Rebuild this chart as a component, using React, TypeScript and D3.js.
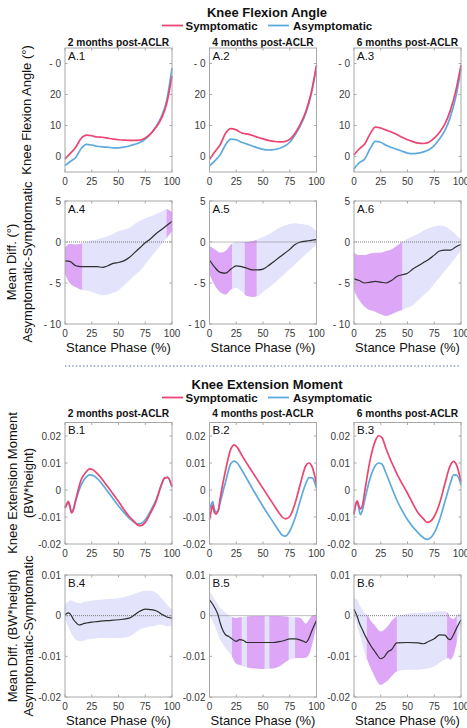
import React from "react";
import * as d3 from "d3";

// ---------- DATA ----------
const subtitles = ["2 months post-ACLR", "4 months post-ACLR", "6 months post-ACLR"];
const xTicks = [0, 25, 50, 75, 100];

// Knee flexion angle (deg) stance grid
const gridA = [0, 5, 10, 15, 20, 25, 30, 35, 40, 45, 50, 55, 60, 65, 70, 75, 80, 85, 90, 95, 100];
const a1Sym = [-0.8, 1.0, 3.0, 5.8, 6.9, 6.7, 6.3, 6.2, 5.9, 5.6, 5.4, 5.3, 5.2, 5.2, 5.3, 6.0, 7.3, 9.4, 12.2, 17.0, 26.0];
const a1Asym = [-2.9, -1.6, -0.3, 2.5, 3.9, 3.7, 3.3, 3.1, 3.0, 2.8, 2.8, 3.0, 3.4, 3.9, 4.5, 5.6, 7.3, 9.6, 12.8, 18.0, 28.5];
const a2Sym = [-1.0, 1.5, 3.8, 7.5, 9.0, 8.6, 7.6, 7.3, 6.8, 6.2, 5.7, 5.2, 4.9, 4.7, 4.8, 5.5, 7.5, 10.5, 14.5, 20.5, 29.5];
const a2Asym = [-3.0, -1.4, 0.6, 3.8, 5.6, 5.4, 4.6, 4.0, 3.4, 2.8, 2.3, 2.1, 2.2, 2.6, 3.3, 4.6, 7.0, 10.0, 14.0, 20.0, 29.0];
const a3Sym = [0.5, 2.5, 4.0, 7.3, 9.5, 9.2, 8.5, 7.9, 7.1, 6.2, 5.4, 4.8, 4.3, 4.2, 4.6, 5.9, 7.8, 10.5, 14.8, 21.0, 29.5];
const a3Asym = [-4.0, -2.0, -0.8, 2.5, 4.9, 4.6, 3.6, 2.9, 2.3, 1.7, 1.1, 0.9, 1.1, 1.5, 2.2, 3.5, 5.7, 8.4, 12.7, 19.0, 28.3];

// Mean differences (asym - sym) with bounds
const a4Mean = [-2.3, -2.4, -2.9, -3.0, -3.0, -3.0, -3.0, -3.1, -2.9, -2.6, -2.5, -2.3, -1.9, -1.3, -0.7, -0.1, 0.4, 1.0, 1.5, 2.0, 2.5];
const a4Up = [-0.7, -0.2, -0.3, -0.2, 0.0, 0.2, 0.3, 0.5, 0.7, 1.0, 1.3, 1.5, 1.7, 2.2, 2.6, 2.9, 3.1, 3.4, 3.7, 4.0, 3.6];
const a4Lo = [-3.9, -5.1, -5.5, -5.8, -5.9, -6.1, -6.3, -6.5, -6.4, -6.2, -5.9, -5.3, -4.7, -4.1, -3.5, -2.7, -1.9, -1.1, -0.3, 0.5, 1.3];
const a4Sig = [[0, 16], [95, 100]];
const a5Mean = [-2.2, -3.1, -3.7, -3.8, -3.3, -2.9, -3.0, -3.2, -3.4, -3.4, -3.3, -2.9, -2.4, -1.9, -1.4, -0.9, -0.3, 0.0, 0.1, 0.2, 0.3];
const a5Up = [-0.5, -0.9, -1.3, -1.1, -0.3, 0.0, 0.0, 0.0, 0.1, 0.3, 0.6, 0.9, 1.3, 1.7, 2.0, 2.2, 2.3, 2.2, 2.1, 1.9, 1.3];
const a5Lo = [-3.9, -5.3, -6.1, -6.4, -5.8, -5.6, -6.0, -6.6, -6.7, -6.6, -6.1, -5.6, -5.1, -4.5, -3.9, -3.3, -2.7, -2.1, -1.5, -0.9, -0.3];
const a5Sig = [[0, 21], [33, 44]];
const a6Mean = [-4.5, -4.7, -5.0, -4.9, -4.8, -4.9, -5.0, -4.7, -4.2, -4.0, -3.8, -3.3, -2.9, -2.5, -2.1, -1.6, -1.1, -1.0, -1.0, -0.6, -0.3];
const a6Up = [-1.3, -1.6, -1.6, -1.4, -1.3, -1.3, -1.1, -0.9, -0.5, 0.0, 0.4, 0.7, 1.0, 1.4, 1.7, 1.9, 2.0, 1.9, 1.5, 0.9, 0.3];
const a6Lo = [-5.9, -7.1, -7.9, -8.3, -8.5, -8.8, -9.0, -8.8, -8.5, -8.3, -8.0, -7.7, -7.1, -6.5, -5.9, -5.1, -4.3, -3.5, -2.7, -1.9, -0.9];
const a6Sig = [[0, 45]];

// Knee extension moment (BW*height)
const gridB = [0, 1.5, 3, 4.5, 6, 8, 10, 15, 20, 23, 26, 30, 40, 50, 60, 65, 68, 71, 75, 80, 85, 90, 93, 96, 100];
const b1Sym = [-0.0067, -0.0055, -0.0042, -0.0058, -0.0085, -0.0072, -0.0037, 0.0037, 0.0068, 0.0078, 0.0075, 0.0062, 0.0012, -0.0043, -0.0098, -0.0118, -0.013, -0.0132, -0.012, -0.0085, -0.0043, 0.0018, 0.0045, 0.0046, 0.0012];
const b1Asym = [-0.0063, -0.0052, -0.0046, -0.0062, -0.008, -0.0068, -0.004, 0.0018, 0.0049, 0.0056, 0.0054, 0.0043, -0.0006, -0.0059, -0.0104, -0.012, -0.0125, -0.0124, -0.011, -0.0077, -0.0037, 0.0018, 0.0043, 0.0048, 0.0012];
const b2Sym = [-0.011, -0.008, -0.0056, -0.0082, -0.0089, -0.0078, -0.003, 0.0073, 0.0152, 0.0167, 0.0158, 0.013, 0.0067, 0.0006, -0.0055, -0.0085, -0.01, -0.0107, -0.0098, -0.0049, 0.0024, 0.009, 0.01, 0.0085, 0.0024];
const b2Asym = [-0.0073, -0.0055, -0.0043, -0.007, -0.0082, -0.0078, -0.0046, 0.003, 0.0098, 0.0107, 0.01, 0.0075, 0.0006, -0.0061, -0.0122, -0.0152, -0.0168, -0.0171, -0.0152, -0.0104, -0.0037, 0.0024, 0.0046, 0.0045, 0.0006];
const b3Sym = [-0.0091, -0.0055, -0.004, -0.0058, -0.007, -0.0055, -0.0006, 0.011, 0.0183, 0.0201, 0.0195, 0.0152, 0.0061, -0.0012, -0.0085, -0.0107, -0.012, -0.0117, -0.0098, -0.0049, 0.0024, 0.0091, 0.0106, 0.0091, 0.003];
const b3Asym = [-0.0085, -0.0055, -0.0043, -0.0068, -0.0091, -0.0073, -0.0037, 0.0043, 0.0091, 0.01, 0.0096, 0.0061, -0.0037, -0.011, -0.0159, -0.0177, -0.0183, -0.0179, -0.0159, -0.011, -0.0043, 0.0024, 0.0055, 0.0055, 0.0018];

const gridBD = [0, 3, 5, 8, 10, 13, 15, 18, 20, 25, 28, 32, 35, 40, 50, 60, 65, 70, 75, 80, 85, 88, 90, 93, 96, 100];
const b4Mean = [0.0002, 0.0007, 0.0004, -0.001, -0.0016, -0.0023, -0.0022, -0.0019, -0.0018, -0.0016, -0.0015, -0.0014, -0.0013, -0.0012, -0.001, -0.0006, 0.0002, 0.0011, 0.0016, 0.0015, 0.0012, 0.0008, 0.0004, 0.0, -0.0004, -0.0006];
const b4Up = [0.0027, 0.0035, 0.0038, 0.0035, 0.0033, 0.0031, 0.0031, 0.0034, 0.0035, 0.0037, 0.0038, 0.0039, 0.004, 0.0041, 0.0043, 0.0049, 0.0054, 0.0058, 0.0061, 0.0061, 0.0056, 0.005, 0.0043, 0.0035, 0.0025, 0.0015];
const b4Lo = [-0.001, -0.0026, -0.0039, -0.0052, -0.0059, -0.0062, -0.0063, -0.0061, -0.0059, -0.0057, -0.0056, -0.0055, -0.0055, -0.0055, -0.0055, -0.0051, -0.0043, -0.0034, -0.003, -0.0026, -0.0024, -0.0022, -0.0022, -0.0024, -0.0026, -0.0025];
const b4Sig: number[][] = [];
const b5Mean = [0.0039, 0.0028, 0.0019, 0.0002, -0.0018, -0.0039, -0.0047, -0.0051, -0.0055, -0.0063, -0.0059, -0.0061, -0.0066, -0.0066, -0.0066, -0.0066, -0.0064, -0.0061, -0.0057, -0.0057, -0.006, -0.0063, -0.0066, -0.0055, -0.0035, -0.0012];
const b5Up = [0.006, 0.0048, 0.0039, 0.0027, 0.0019, 0.0012, 0.0007, 0.0001, -0.0002, -0.0006, -0.0004, -0.0003, -0.0002, -0.0001, -0.0001, -0.0001, -0.0001, -0.0002, -0.0003, -0.0004, -0.0006, -0.0015, -0.002, -0.001, 0.0, 0.0002];
const b5Lo = [0.0002, -0.0014, -0.0026, -0.0046, -0.0059, -0.0072, -0.008, -0.009, -0.0096, -0.0118, -0.0121, -0.0125, -0.0127, -0.0129, -0.0131, -0.0129, -0.0125, -0.0116, -0.0108, -0.0105, -0.0104, -0.0104, -0.0103, -0.0095, -0.007, -0.002];
const b5Sig = [[21, 30], [35, 51.5], [56, 74], [80, 100]];
const b6Mean = [0.0016, -0.0002, -0.0018, -0.0035, -0.0047, -0.0062, -0.0071, -0.0083, -0.009, -0.0106, -0.0102, -0.0088, -0.0084, -0.0067, -0.0066, -0.0067, -0.0069, -0.0063, -0.0057, -0.0047, -0.0048, -0.0057, -0.0059, -0.0047, -0.003, -0.001];
const b6Up = [0.0043, 0.0039, 0.0027, 0.0015, 0.0007, 0.0, -0.001, -0.002, -0.0026, -0.0039, -0.0035, -0.0025, -0.0014, -0.0002, 0.0005, 0.0007, 0.0008, 0.0008, 0.001, 0.0011, 0.0011, 0.0006, -0.0006, -0.0008, 0.0, 0.0007];
const b6Lo = [0.0002, -0.0026, -0.0043, -0.0072, -0.0092, -0.0112, -0.0125, -0.0142, -0.0153, -0.017, -0.0166, -0.0158, -0.0149, -0.0137, -0.0133, -0.0133, -0.0131, -0.0129, -0.0125, -0.0116, -0.0108, -0.0104, -0.0108, -0.0096, -0.0067, -0.0026];
const b6Sig = [[12, 40], [87, 96]];

const aTopTicks = [0, 10, 20, 30];
const aTopLabels = ["0", "10", "20", "- 0"];
const aDiffTicks = [-10, -5, 0, 5];
const aDiffLabels = ["- 10", "- 5", "0", "5"];
const bTopTicks = [-0.02, -0.01, 0, 0.01, 0.02];
const bTopLabels = ["-0.02", "-0.01", "0", "0.01", "0.02"];
const bDiffTicks = [-0.02, -0.01, 0, 0.01];
const bDiffLabels = ["-0.02", "-0.01", "0", "0.01"];

// ---------- STYLE ----------
const FONT = "'Liberation Sans', Arial, Helvetica, sans-serif";
const RED = "#ea4573";
const BLUE = "#5ea9dd";
const BAND = "#e3e3fb";
const SIG = "#dda6f6";
const AXIS = "#a8a8a8";
const TXT = "#3a3a3a";

const PX = [65, 209.5, 354];
const PW = 107;

type Row = { top: number; bottom: number; domain: [number, number]; ticks: number[]; labels: string[] };

const rowATop: Row = { top: 48, bottom: 172, domain: [-5, 35], ticks: aTopTicks, labels: aTopLabels };
const rowADiff: Row = { top: 201, bottom: 324, domain: [-10, 5], ticks: aDiffTicks, labels: aDiffLabels };
const rowBTop: Row = { top: 422.5, bottom: 544, domain: [-0.02, 0.025], ticks: bTopTicks, labels: bTopLabels };
const rowBDiff: Row = { top: 575, bottom: 697, domain: [-0.02, 0.01], ticks: bDiffTicks, labels: bDiffLabels };

function Frame({ x0, row, label, xLabel, children }: any) {
  const x = d3.scaleLinear().domain([0, 100]).range([x0, x0 + PW]);
  const y = d3.scaleLinear().domain(row.domain).range([row.bottom, row.top]);
  const tl = 2.5;
  return (
    <g>
      {children(x, y)}
      <rect x={x0} y={row.top} width={PW} height={row.bottom - row.top} fill="none" stroke={AXIS} strokeWidth={1} />
      {xTicks.map((t) => (
        <g key={"xt" + t}>
          <line x1={x(t)} x2={x(t)} y1={row.bottom} y2={row.bottom - tl} stroke={AXIS} />
          <line x1={x(t)} x2={x(t)} y1={row.top} y2={row.top + tl} stroke={AXIS} />
          <text x={x(t)} y={row.bottom + 12.5} textAnchor="middle" fontSize={10} fill={TXT} fontFamily={FONT}>
            {t}
          </text>
        </g>
      ))}
      {row.ticks.map((t: number, i: number) => (
        <g key={"yt" + i}>
          <line x1={x0} x2={x0 + tl} y1={y(t)} y2={y(t)} stroke={AXIS} />
          <line x1={x0 + PW} x2={x0 + PW - tl} y1={y(t)} y2={y(t)} stroke={AXIS} />
          <text x={x0 - 4} y={y(t) + 3.5} textAnchor="end" fontSize={10} fill={TXT} fontFamily={FONT}>
            {row.labels[i]}
          </text>
        </g>
      ))}
      <text x={x0 + 3} y={row.top + 11.5} fontSize={11.5} fill="#111" fontFamily={FONT}>
        {label}
      </text>
      {xLabel && (
        <text x={x0 + PW / 2} y={row.bottom + 28} textAnchor="middle" fontSize={13} fill="#111" fontFamily={FONT}>
          Stance Phase (%)
        </text>
      )}
    </g>
  );
}

function CurvePanel({ x0, row, label, grid, sym, asym }: any) {
  return (
    <Frame x0={x0} row={row} label={label}>
      {(x: any, y: any) => {
        const line = d3
          .line<number>()
          .x((_, i) => x(grid[i]))
          .y((v) => y(v))
          .curve(d3.curveMonotoneX);
        return (
          <g>
            <path d={line(asym) || ""} fill="none" stroke={BLUE} strokeWidth={1.7} />
            <path d={line(sym) || ""} fill="none" stroke={RED} strokeWidth={1.7} />
          </g>
        );
      }}
    </Frame>
  );
}

function DiffPanel({ id, x0, row, label, grid, mean, up, lo, sig }: any) {
  return (
    <Frame x0={x0} row={row} label={label} xLabel>
      {(x: any, y: any) => {
        const idx = grid.map((_: number, i: number) => i);
        const area = d3
          .area<number>()
          .x((i) => x(grid[i]))
          .y0((i) => y(lo[i]))
          .y1((i) => y(up[i]))
          .curve(d3.curveMonotoneX);
        const line = d3
          .line<number>()
          .x((_, i) => x(grid[i]))
          .y((v) => y(v))
          .curve(d3.curveMonotoneX);
        const d = area(idx) || "";
        return (
          <g>
            <defs>
              <clipPath id={id}>
                {sig.map((s: number[], k: number) => (
                  <rect key={k} x={x(s[0])} width={x(s[1]) - x(s[0])} y={row.top} height={row.bottom - row.top} />
                ))}
              </clipPath>
            </defs>
            <path d={d} fill={BAND} />
            {sig.length > 0 && <path d={d} fill={SIG} clipPath={`url(#${id})`} />}
            <line x1={x(0)} x2={x(100)} y1={y(0)} y2={y(0)} stroke="#7a7a7a" strokeWidth={1} strokeDasharray="1 1" />
            <path d={line(mean) || ""} fill="none" stroke="#2e2e2e" strokeWidth={1.2} />
          </g>
        );
      }}
    </Frame>
  );
}

function Header({ title, yTitle, ySub, yLeg }: any) {
  return (
    <g fontFamily={FONT}>
      <text x={267} y={yTitle} textAnchor="middle" fontSize={13} fontWeight="bold" fill="#111">
        {title}
      </text>
      <line x1={162} x2={183} y1={yLeg} y2={yLeg} stroke={RED} strokeWidth={1.8} />
      <text x={185.5} y={yLeg + 4} fontSize={11.5} fontWeight="bold" fill="#111">
        Symptomatic
      </text>
      <line x1={268} x2={289} y1={yLeg} y2={yLeg} stroke={BLUE} strokeWidth={1.8} />
      <text x={293} y={yLeg + 4} fontSize={11.5} fontWeight="bold" fill="#111">
        Asymptomatic
      </text>
      {subtitles.map((s, i) => (
        <text key={s} x={PX[i] + PW / 2} y={ySub} textAnchor="middle" fontSize={10.2} fontWeight="bold" fill="#111">
          {s}
        </text>
      ))}
    </g>
  );
}

function YLabel({ x, y, text }: any) {
  return (
    <text
      transform={`translate(${x},${y}) rotate(-90)`}
      textAnchor="middle"
      dominantBaseline="middle"
      fontSize={13}
      fill="#111"
      fontFamily={FONT}
    >
      {text}
    </text>
  );
}

export default function App() {
  const topA = [
    [a1Sym, a1Asym],
    [a2Sym, a2Asym],
    [a3Sym, a3Asym],
  ];
  const diffA = [
    [a4Mean, a4Up, a4Lo, a4Sig],
    [a5Mean, a5Up, a5Lo, a5Sig],
    [a6Mean, a6Up, a6Lo, a6Sig],
  ];
  const topB = [
    [b1Sym, b1Asym],
    [b2Sym, b2Asym],
    [b3Sym, b3Asym],
  ];
  const diffB = [
    [b4Mean, b4Up, b4Lo, b4Sig],
    [b5Mean, b5Up, b5Lo, b5Sig],
    [b6Mean, b6Up, b6Lo, b6Sig],
  ];
  return (
    <svg
      width={467}
      height={728}
      style={{ position: "absolute", left: 0, top: 0, display: "block", background: "#fff" }}
    >
      <rect width={467} height={728} fill="#fff" />
      <Header title="Knee Flexion Angle" yTitle={17} yLeg={25.5} ySub={45.5} />
      <Header title="Knee Extension Moment" yTitle={389} yLeg={397.5} ySub={417} />

      {topA.map((s, i) => (
        <CurvePanel key={"ta" + i} x0={PX[i]} row={rowATop} label={`A.${i + 1}`} grid={gridA} sym={s[0]} asym={s[1]} />
      ))}
      {diffA.map((s: any, i) => (
        <DiffPanel key={"da" + i} id={"clipA" + i} x0={PX[i]} row={rowADiff} label={`A.${i + 4}`} grid={gridA} mean={s[0]} up={s[1]} lo={s[2]} sig={s[3]} />
      ))}
      {topB.map((s, i) => (
        <CurvePanel key={"tb" + i} x0={PX[i]} row={rowBTop} label={`B.${i + 1}`} grid={gridB} sym={s[0]} asym={s[1]} />
      ))}
      {diffB.map((s: any, i) => (
        <DiffPanel key={"db" + i} id={"clipB" + i} x0={PX[i]} row={rowBDiff} label={`B.${i + 4}`} grid={gridBD} mean={s[0]} up={s[1]} lo={s[2]} sig={s[3]} />
      ))}

      <line x1={65} x2={461} y1={366} y2={366} stroke="#7f9cc2" strokeWidth={1.6} strokeDasharray="1.4 2.2" />

      <YLabel x={28} y={110} text="Knee Flexion Angle (°)" />
      <YLabel x={13} y={262} text="Mean Diff. (°)" />
      <YLabel x={29} y={262} text="Asymptomatic-Symptomatic" />
      <YLabel x={14} y={483} text="Knee Extension Moment" />
      <YLabel x={30} y={483} text="(BW*height)" />
      <YLabel x={14} y={636} text="Mean Diff. (BW*height)" />
      <YLabel x={30} y={636} text="Asymptomatic-Symptomatic" />
    </svg>
  );
}
